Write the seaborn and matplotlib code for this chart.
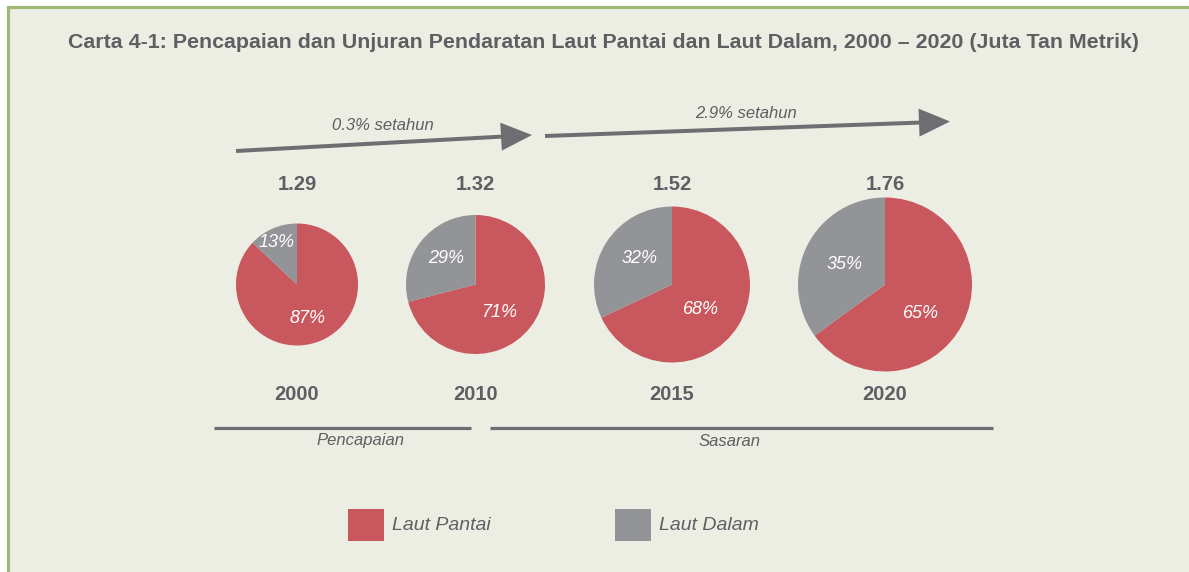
import matplotlib
matplotlib.use("Agg")
import matplotlib.pyplot as plt
import seaborn as sns
from matplotlib.patches import Rectangle, FancyArrow

# ---------------- data ----------------
years = ["2000", "2010", "2015", "2020"]
totals = [1.29, 1.32, 1.52, 1.76]
laut_pantai = [87, 71, 68, 65]
laut_dalam = [13, 29, 32, 35]
series_names = ["Laut Pantai", "Laut Dalam"]
growth_labels = ["0.3% setahun", "2.9% setahun"]
period_labels = ["Pencapaian", "Sasaran"]
title = "Carta 4-1: Pencapaian dan Unjuran Pendaratan Laut Pantai dan Laut Dalam, 2000 \u2013 2020 (Juta Tan Metrik)"

# ---------------- style ----------------
sns.set_theme(style="white")
NARROW = ["Liberation Sans Narrow", "Liberation Sans", "DejaVu Sans"]
SANS = ["Liberation Sans", "DejaVu Sans"]
plt.rcParams["font.family"] = SANS

palette = sns.color_palette(["#C9575E", "#939498"])
BG = "#ECEEE4"
BORDER = "#9FB874"
TXT = "#5E5F62"
ARROW = "#6D6E71"

W, H = 1189, 572
fig = plt.figure(figsize=(W / 100, H / 100), dpi=100)
fig.patch.set_facecolor("white")
ax = fig.add_axes([0, 0, 1, 1])
ax.set_xlim(0, W)
ax.set_ylim(H, 0)
ax.set_aspect("equal")
ax.axis("off")

# panel background with border (top + left visible)
ax.add_patch(Rectangle((7.5, 6.5), W + 20, H + 20, facecolor=BG,
                       edgecolor=BORDER, lw=2.3, zorder=0))

# title
ax.text(603.5, 42, title, ha="center", va="center", fontsize=15.4,
        fontweight="bold", color=TXT, family=SANS)

# ---------------- pies ----------------
centers_x = [297, 475.5, 672, 885]
center_y = 284.5
radii = [61, 69.5, 78, 87]
# label offsets (fraction of radius) for [pantai, dalam]
label_off = [
    [(0.17, 0.55), (-0.33, -0.69)],
    [(0.34, 0.41), (-0.42, -0.38)],
    [(0.37, 0.32), (-0.42, -0.33)],
    [(0.41, 0.33), (-0.46, -0.23)],
]

for i, yr in enumerate(years):
    cx, r = centers_x[i], radii[i]
    vals = [laut_pantai[i], laut_dalam[i]]
    ax.pie(vals, colors=palette, center=(cx, center_y), radius=r,
           startangle=-90, counterclock=True, frame=True,
           wedgeprops=dict(linewidth=0))
    for v, (fx, fy) in zip(vals, label_off[i]):
        ax.text(cx + fx * r, center_y + fy * r, f"{v}%", ha="center",
                va="center", fontsize=13, style="italic", color="white",
                family=NARROW)
    ax.text(cx, 185, f"{totals[i]:.2f}", ha="center", va="center",
            fontsize=14.5, fontweight="bold", color=TXT, family=NARROW)
    ax.text(cx, 395, yr, ha="center", va="center", fontsize=14.5,
            fontweight="bold", color=TXT, family=NARROW)

# restore limits after pie
ax.set_xlim(0, W)
ax.set_ylim(H, 0)
ax.axis("off")

# ---------------- growth arrows ----------------
arrows = [((236, 151), (532, 135)), ((545, 136), (950, 121.5))]
label_pos = [(383, 126), (746, 113)]
for (s, e), lab, (lx, ly) in zip(arrows, growth_labels, label_pos):
    ax.add_patch(FancyArrow(s[0], s[1], e[0] - s[0], e[1] - s[1], width=4,
                            head_width=28, head_length=31,
                            length_includes_head=True, color=ARROW, lw=0))
    ax.text(lx, ly, lab, ha="center", va="center", fontsize=12,
            style="italic", color=TXT, family=NARROW)

# ---------------- period lines ----------------
periods = [(214, 471), (490, 993)]
period_lab_x = [360, 730]
for (x0, x1), lab, lx in zip(periods, period_labels, period_lab_x):
    ax.plot([x0, x1], [428, 428], color=ARROW, lw=2.3, solid_capstyle="butt")
    ax.text(lx, 441, lab, ha="center", va="center", fontsize=12,
            style="italic", color=TXT, family=NARROW)

# ---------------- legend ----------------
legend_x = [348, 615]
for name, col, lx in zip(series_names, palette, legend_x):
    ax.add_patch(Rectangle((lx, 509), 36, 32, facecolor=col, lw=0))
    ax.text(lx + 44, 526, name, ha="left", va="center", fontsize=14,
            style="italic", color=TXT, family=NARROW)

fig.savefig("out.png", dpi=100, facecolor="white")
